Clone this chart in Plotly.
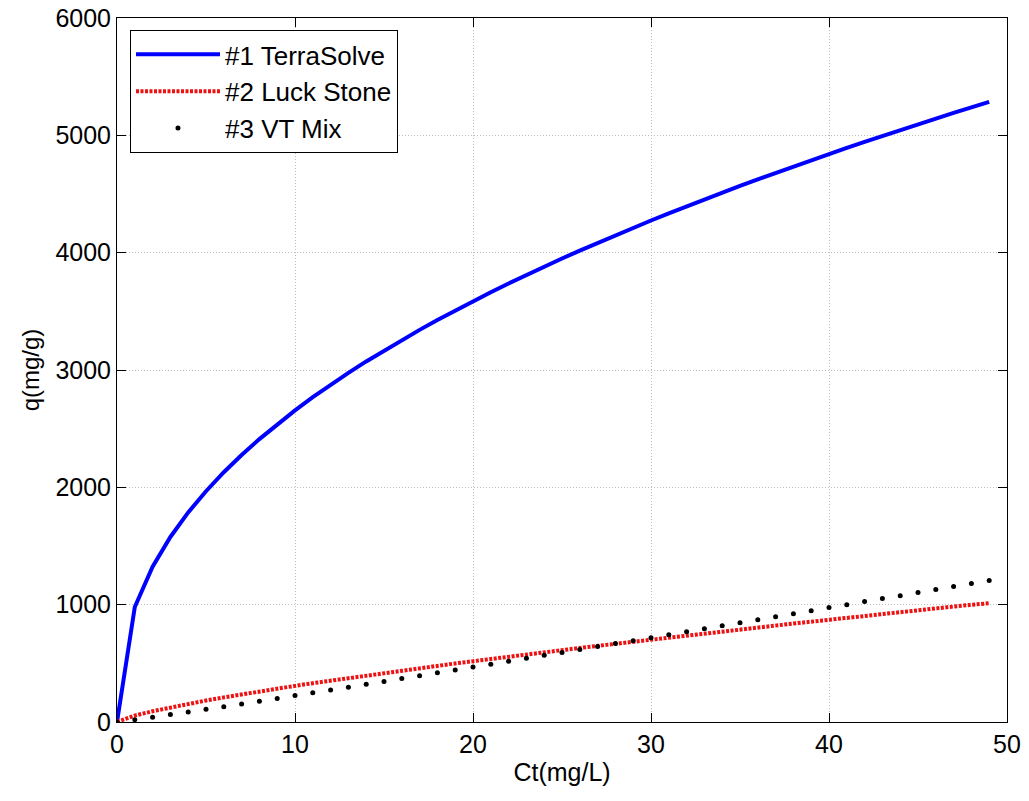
import plotly.graph_objects as go

ct = list(range(0, 50))
terrasolve = [0, 980, 1323, 1577, 1786, 1967, 2129, 2276, 2411, 2538, 2656, 2768, 2874, 2975, 3073,
              3166, 3255, 3342, 3426, 3507, 3586, 3662, 3737, 3810, 3880, 3950, 4017, 4083, 4148,
              4212, 4274, 4335, 4395, 4454, 4512, 4569, 4625, 4680, 4735, 4788, 4841, 4893, 4944,
              4995, 5045, 5094, 5143, 5191, 5238, 5285]
luck_stone = [0, 55, 92, 125, 155, 183, 210, 236, 261, 285, 308, 331, 353, 375, 397, 418, 438, 459,
              479, 499, 518, 538, 557, 576, 594, 613, 631, 649, 667, 685, 702, 720, 737, 755, 772,
              789, 805, 822, 839, 855, 872, 888, 904, 920, 936, 952, 968, 984, 999, 1012]
vt_mix = [0, 20, 41, 63, 86, 108, 131, 154, 177, 201, 225, 249, 273, 297, 321, 345, 370, 394, 419,
          443, 468, 493, 518, 543, 568, 593, 618, 643, 668, 693, 719, 744, 770, 795, 821, 846, 872,
          898, 923, 949, 975, 1000, 1026, 1052, 1077, 1103, 1129, 1154, 1180, 1205]

x_ticks = [0, 10, 20, 30, 40, 50]
y_ticks = [0, 1000, 2000, 3000, 4000, 5000, 6000]

FONT = "Liberation Sans, Arial, Helvetica"

fig = go.Figure()
fig.add_trace(go.Scatter(x=ct, y=terrasolve, mode="lines", name="#1 TerraSolve",
                         line=dict(color="#0000ff", width=4)))
fig.add_trace(go.Scatter(x=ct, y=luck_stone, mode="lines", name="#2 Luck Stone",
                         line=dict(color="#ee1111", width=4, dash="3px,1.5px")))
fig.add_trace(go.Scatter(x=ct, y=vt_mix, mode="markers", name="#3 VT Mix",
                         marker=dict(color="black", size=5)))

axis_common = dict(
    showline=True, linecolor="black", linewidth=1, mirror="ticks",
    ticks="inside", ticklen=9, tickcolor="black",
    showgrid=True, gridcolor="#bdbdbd", griddash="1px,2px", gridwidth=1,
    zeroline=False, automargin=False,
    tickfont=dict(family=FONT, size=25, color="black"),
)

fig.update_xaxes(range=[0, 50], tickvals=x_ticks,
                 title=dict(text="Ct(mg/L)", font=dict(family=FONT, size=25, color="black"),
                            standoff=6),
                 **axis_common)
fig.update_yaxes(range=[0, 6000], tickvals=y_ticks,
                 title=dict(text="q(mg/g)", font=dict(family=FONT, size=24, color="black"),
                            standoff=8),
                 **axis_common)

fig.update_layout(
    width=1029, height=801,
    margin=dict(l=117, r=22, t=18, b=79),
    paper_bgcolor="white", plot_bgcolor="white",
    showlegend=True,
    legend=dict(x=0.0146, y=0.983, xanchor="left", yanchor="top",
                bgcolor="white", bordercolor="black", borderwidth=1,
                font=dict(family=FONT, size=26, color="black"),
                itemwidth=84, tracegroupgap=0),
)

fig.write_html("out.html")
